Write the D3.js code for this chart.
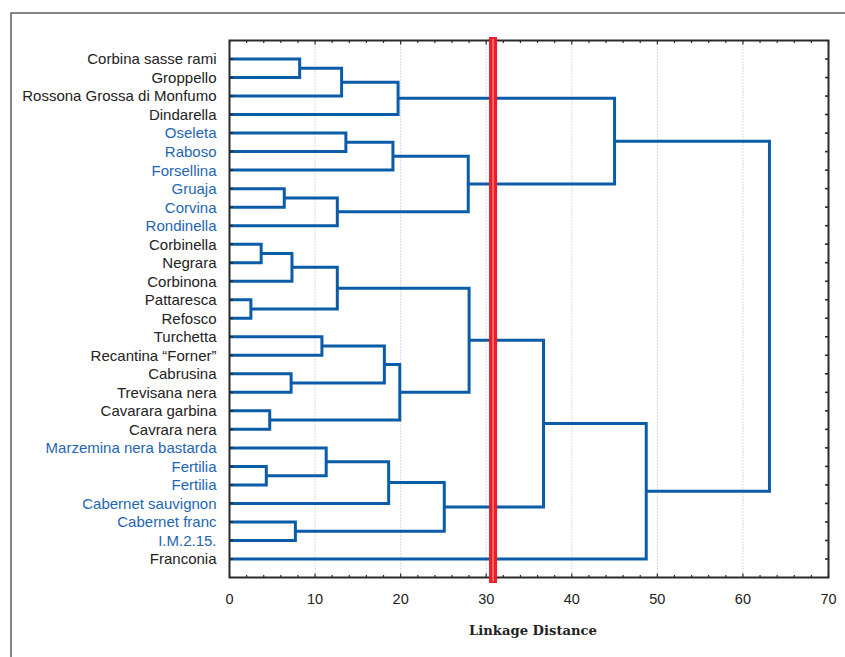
<!DOCTYPE html>
<html>
<head>
<meta charset="utf-8">
<script src="https://cdn.jsdelivr.net/npm/d3@7"></script>
<style>
  body { margin: 0; background: #fff; }
  svg { display: block; }
</style>
</head>
<body>
<div id="chart"></div>
<script>
/* DATA */
// leaf order, top to bottom
const leaves = [
  "Corbina sasse rami", "Groppello", "Rossona Grossa di Monfumo", "Dindarella",
  "Oseleta", "Raboso", "Forsellina", "Gruaja", "Corvina", "Rondinella",
  "Corbinella", "Negrara", "Corbinona", "Pattaresca", "Refosco",
  "Turchetta", "Recantina “Forner”", "Cabrusina", "Trevisana nera",
  "Cavarara garbina", "Cavrara nera", "Marzemina nera bastarda",
  "Fertilia", "Fertilia", "Cabernet sauvignon", "Cabernet franc",
  "I.M.2.15.", "Franconia"
];
// which leaves get the blue label
const blueLeaves = [4, 5, 6, 7, 8, 9, 21, 22, 23, 24, 25, 26];

// merges: [node a, node b, linkage distance]; merge k creates node 28 + k
const merges = [
  [0, 1, 8.2],    // 28
  [28, 2, 13.1],  // 29
  [29, 3, 19.7],  // 30
  [4, 5, 13.6],   // 31
  [31, 6, 19.1],  // 32
  [7, 8, 6.4],    // 33
  [33, 9, 12.6],  // 34
  [32, 34, 27.9], // 35
  [30, 35, 45.0], // 36
  [10, 11, 3.7],  // 37
  [37, 12, 7.3],  // 38
  [13, 14, 2.5],  // 39
  [38, 39, 12.6], // 40
  [15, 16, 10.8], // 41
  [17, 18, 7.2],  // 42
  [41, 42, 18.1], // 43
  [19, 20, 4.7],  // 44
  [43, 44, 19.9], // 45
  [40, 45, 28.0], // 46
  [22, 23, 4.3],  // 47
  [21, 47, 11.3], // 48
  [48, 24, 18.6], // 49
  [25, 26, 7.7],  // 50
  [49, 50, 25.1], // 51
  [46, 51, 36.7], // 52
  [52, 27, 48.7], // 53
  [36, 53, 63.1]  // 54
];

const cutDistance = 30.8;
const xTicks = [0, 10, 20, 30, 40, 50, 60, 70];
const xMinorTicks = d3.range(0, 71, 2);
const gridValues = [10, 20, 30, 40, 50, 60];
const xTitle = "Linkage Distance";

/* LAYOUT */
const width = 845, height = 657;
const margin = { top: 40.5, right: 16.5, bottom: 79.5, left: 229.5 };

const svg = d3.select("#chart").append("svg")
  .attr("width", width)
  .attr("height", height);

// outer frame
svg.append("rect")
  .attr("x", 11).attr("y", 13)
  .attr("width", 900).attr("height", 700)
  .attr("fill", "none")
  .attr("stroke", "#444")
  .attr("stroke-width", 1.3);

const xScale = d3.scaleLinear()
  .domain([0, 70])
  .range([margin.left, width - margin.right]);

const yScale = d3.scaleLinear()
  .domain([0, leaves.length + 1])
  .range([margin.top, height - margin.bottom]);

const x0 = xScale(0), x1 = xScale(70);
const y0 = yScale(0), y1 = yScale(leaves.length + 1);

// gridlines
svg.append("g")
  .selectAll("line")
  .data(gridValues)
  .join("line")
  .attr("x1", d => xScale(d)).attr("x2", d => xScale(d))
  .attr("y1", y0).attr("y2", y1)
  .attr("stroke", "#b5b5b5")
  .attr("stroke-width", 1)
  .attr("stroke-dasharray", "1,2");

/* DENDROGRAM */
const nodeY = leaves.map((d, i) => yScale(i + 1));
const nodeH = leaves.map(() => 0);
merges.forEach(([a, b, h]) => {
  nodeY.push((nodeY[a] + nodeY[b]) / 2);
  nodeH.push(h);
});

svg.append("g")
  .selectAll("path")
  .data(merges)
  .join("path")
  .attr("d", ([a, b, h]) => {
    const p = d3.path();
    p.moveTo(xScale(nodeH[a]), nodeY[a]);
    p.lineTo(xScale(h), nodeY[a]);
    p.lineTo(xScale(h), nodeY[b]);
    p.lineTo(xScale(nodeH[b]), nodeY[b]);
    return p.toString();
  })
  .attr("fill", "none")
  .attr("stroke", "#0b5ca8")
  .attr("stroke-width", 3)
  .attr("stroke-linejoin", "miter");

/* AXES / FRAME */
const axisG = svg.append("g").attr("stroke", "#2a2a2a");

// ticks on left and right (inward)
axisG.selectAll(".ytick")
  .data(leaves.map((d, i) => i + 1))
  .join("g")
  .each(function(d) {
    const g = d3.select(this);
    g.append("line").attr("x1", x0).attr("x2", x0 + 3.5)
      .attr("y1", yScale(d)).attr("y2", yScale(d)).attr("stroke-width", 1.6);
    g.append("line").attr("x1", x1).attr("x2", x1 - 3.5)
      .attr("y1", yScale(d)).attr("y2", yScale(d)).attr("stroke-width", 1.6);
  });

// ticks on top and bottom (inward)
axisG.selectAll(".xtick")
  .data(xMinorTicks)
  .join("g")
  .each(function(d) {
    const g = d3.select(this);
    const len = d % 10 === 0 ? 4 : 2.5;
    g.append("line").attr("x1", xScale(d)).attr("x2", xScale(d))
      .attr("y1", y0).attr("y2", y0 + len).attr("stroke-width", 1.2);
    g.append("line").attr("x1", xScale(d)).attr("x2", xScale(d))
      .attr("y1", y1).attr("y2", y1 - len).attr("stroke-width", 1.2);
  });

axisG.append("rect")
  .attr("x", x0).attr("y", y0)
  .attr("width", x1 - x0).attr("height", y1 - y0)
  .attr("fill", "none")
  .attr("stroke-width", 2);

// cut line
const cutX = xScale(cutDistance);
svg.append("rect")
  .attr("x", cutX - 4).attr("y", y0 - 3.5)
  .attr("width", 8).attr("height", y1 - y0 + 9)
  .attr("fill", "#ee1c25");
svg.append("line")
  .attr("x1", cutX).attr("x2", cutX)
  .attr("y1", y0 - 2).attr("y2", y1 + 4)
  .attr("stroke", "#f7a5a8")
  .attr("stroke-width", 1);

/* TEXT */
svg.append("g")
  .selectAll("text")
  .data(leaves)
  .join("text")
  .attr("x", 216.5)
  .attr("y", (d, i) => yScale(i + 1))
  .attr("dy", "0.36em")
  .attr("text-anchor", "end")
  .attr("font-family", "Liberation Sans, Arial, sans-serif")
  .attr("font-size", 15)
  .attr("fill", (d, i) => blueLeaves.includes(i) ? "#1e66b3" : "#222")
  .text(d => d);

svg.append("g")
  .selectAll("text")
  .data(xTicks)
  .join("text")
  .attr("x", d => xScale(d))
  .attr("y", y1 + 26)
  .attr("text-anchor", "middle")
  .attr("font-family", "Liberation Sans, Arial, sans-serif")
  .attr("font-size", 14.5)
  .attr("fill", "#222")
  .text(d => d);

svg.append("text")
  .attr("x", 533)
  .attr("y", 635)
  .attr("text-anchor", "middle")
  .attr("font-family", "DejaVu Serif, serif")
  .attr("font-weight", "bold")
  .attr("font-size", 12.5)
  .attr("textLength", 128)
  .attr("lengthAdjust", "spacingAndGlyphs")
  .attr("fill", "#222")
  .text(xTitle);
</script>
</body>
</html>
